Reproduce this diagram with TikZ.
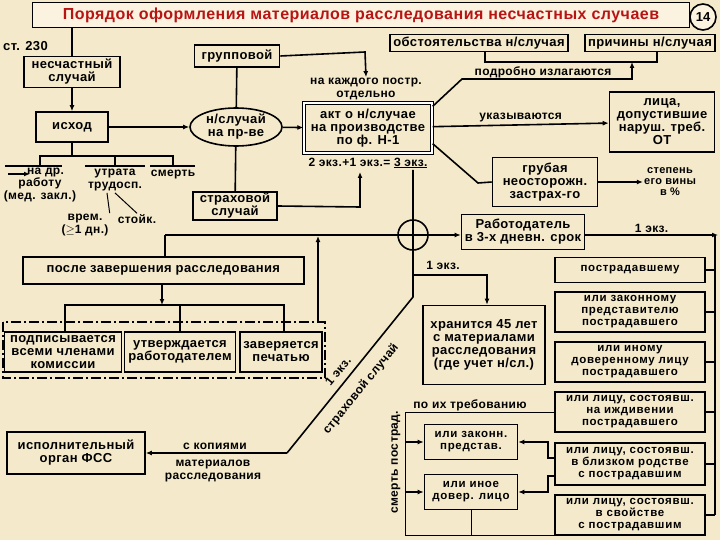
\documentclass[tikz,border=0pt]{standalone}
\usepackage{fontspec}
\setmainfont{Liberation Sans}
\newfontfamily\wideA{Liberation Sans}[LetterSpace=3]
\newfontfamily\wideB{Liberation Sans}[LetterSpace=6]
\usetikzlibrary{arrows.meta,shapes.geometric}
\definecolor{bg}{HTML}{F4EACB}
\definecolor{ttl}{HTML}{FBF3E0}
\definecolor{red1}{HTML}{B81414}
\begin{document}
\begin{tikzpicture}[x=1pt,y=-1pt,
  every node/.style={font=\wideA\fontsize{13}{13}\selectfont\bfseries, align=center, inner sep=1pt},
  box/.style={draw, line width=1.6pt, rectangle},
  sm/.style={font=\wideB\fontsize{11.5}{12}\selectfont\bfseries},
  ln/.style={line width=1.6pt},
  ar/.style={ln, -{Latex[length=6pt,width=5pt]}},
  lbl/.style={font=\wideA\fontsize{12}{12.5}\selectfont\bfseries}]
\fill[bg] (0,0) rectangle (720,540);
\useasboundingbox (0,0) rectangle (720,540);
% title
\node[box, fill=ttl, minimum width=657pt, minimum height=25pt, text=red1, font=\wideA\fontsize{16}{16}\selectfont\bfseries] (title) at (361,15) {Порядок оформления материалов расследования несчастных случаев};
\node[draw, circle, line width=1.6pt, fill=ttl, minimum size=26pt, font=\fontsize{13}{13}\selectfont\bfseries] (n14) at (703,17) {14};
\node[anchor=west] (st) at (2,46) {ст. 230};
% left part
\node[box, minimum width=96pt, minimum height=31pt] (nesch) at (72,72) {несчастный\\случай};
\node[box, minimum width=72pt, minimum height=30pt] (ishod) at (72,127) {исход};
\node[draw, ellipse, line width=1.6pt, minimum width=92pt, minimum height=38pt, inner sep=0pt] (ell) at (236,127) {н/случай\\на пр-ве};
\node[box, minimum width=85pt, minimum height=22pt] (grp) at (237,56) {групповой};
\node[box, minimum width=84pt, minimum height=28pt] (strah) at (235,206) {страховой\\случай};
\draw[ln] (title.south -| nesch) -- (nesch.north);
\draw[ar] (nesch) -- (ishod);
\draw[ar] (ishod) -- (ell);
\draw[ln] (grp) -- (ell) -- (strah);
% outcomes
\coordinate (b0) at (72,156);
\draw[ln] (ishod) -- (b0);
\draw[ln] (40,166) -- (40,156) -- (173,156) -- (173,166);
\draw[ln] (115,156) -- (115,166);
\draw[ln] (5,166) -- (62,166); \draw[ln] (85,166) -- (145,166); \draw[ln] (150,166) -- (195,166);
\node[lbl, align=center] (drr) at (40,185) {\ \ \ на др.\\работу\\(мед. закл.)};
\coordinate (dra) at (8,174);
\draw[ar] (dra) -- +(22,0);
\node[lbl] (utr) at (115,180) {утрата\\трудосп.};
\node[lbl] (smrt) at (173,175) {смерть};
\node[lbl] (vrem) at (85,225) {врем.\\(${\geq}$1 дн.)};
\node[lbl] (stk) at (137,219) {стойк.};
\draw[line width=1pt] (utr.south) ++(-8,1) -- (vrem.north east);
\draw[line width=1pt] (utr.south) ++(0,1) -- (stk.north);
% act
\node[draw, double, double distance=2pt, line width=1.3pt, minimum width=128pt, minimum height=50pt] (akt) at (368,128) {акт о н/случае\\на производстве\\по ф. Н-1};
\node[lbl] (kazh) at (366,89) {на каждого постр.\\отдельно};
\node[lbl] (ekz) at (368,163) {2 экз.+1 экз.= \underline{3 экз.}};
\draw[ar] (ell) -- (akt);
\draw[ar] (grp.east) -- (365,52) -- (kazh.north);
\draw[ar] (strah.east) -- (360,207) -- (360,172);
% top right
\node[box, minimum width=178pt, minimum height=17pt] (obst) at (479,43) {обстоятельства н/случая};
\node[box, minimum width=130pt, minimum height=17pt] (prich) at (650,43) {причины н/случая};
\coordinate (br) at (632,62);
\draw[ln] (obst.south -| 485,0) -- (485,62) -- (657,62) -- (prich.south -| 657,0);
\draw[ar] (akt.north east) ++(0,4) -- (462,79) -- (632,79) -- (br);
\node[lbl] (podr) at (543,72) {подробно излагаются};
\node[box, minimum width=105pt, minimum height=60pt] (lica) at (662,122) {лица,\\допустившие\\наруш. треб.\\ОТ};
\draw[ar] (akt) -- node[lbl, above=1pt] {указываются} (lica);
\node[box, minimum width=105pt, minimum height=49pt] (grub) at (545,182) {грубая\\неосторожн.\\застрах-го};
\draw[ln] (akt.south east) ++(0,-10) -- (478,183) -- (grub.west);
\node[font=\wideA\fontsize{11}{11}\selectfont\bfseries] (step) at (670,182) {степень\\его вины\\в \%};
\draw[ar] (grub) -- (step);
% circle and employer
\node[draw, circle, line width=1.6pt, minimum size=30pt, inner sep=0pt] (circ) at (413,235) {};
\node[box, minimum width=123pt, minimum height=35pt] (rab) at (523,232) {Работодатель\\в 3-х дневн. срок};
\coordinate (hl) at (165,235);
\draw[ln] (413,170) -- (413,297) -- (287,453);
\draw[ar] (hl) -- (rab.west |- 0,235);
\node[lbl, rotate=51] (d1) at (338,371) {1 экз.};
\node[lbl, rotate=51] (d2) at (361,389) {страховой случай};
\node[lbl] (e1) at (443,265) {1 экз.};
\node[box, minimum width=122pt, minimum height=79pt] (hran) at (484,345) {хранится 45 лет\\с материалами\\расследования\\(где учет н/сл.)};
\draw[ar] (413,275) -- (487,275) -- (hran.north -| 487,0);
% after
\node[box, minimum width=281pt, minimum height=27pt, anchor=north west] (after) at (22,256) {};
\node at (after.center) {после завершения расследования};
\draw[ln] (after.north -| hl) -- (hl);
\draw[line width=1.6pt, dash pattern=on 10pt off 3pt on 2pt off 3pt] (3,322) rectangle (325,378);
\node[box, minimum width=117pt, minimum height=40pt] (p1) at (63,352) {подписывается\\всеми членами\\комиссии};
\node[box, minimum width=111pt, minimum height=40pt] (p2) at (180,352) {утверждается\\работодателем};
\node[box, minimum width=82pt, minimum height=40pt] (p3) at (281,352) {заверяется\\печатью};
\draw[ar] (after.south -| 162,0) -- (162,305);
\draw[ln] (p1.north -| 65,0) -- (65,305) -- (284,305) -- (p3.north -| 284,0);
\draw[ln] (180,305) -- (p2.north);
\draw[ar] (318,322) -- (318,236);
\node[box, minimum width=138pt, minimum height=42pt] (fss) at (76,453) {исполнительный\\орган ФСС};
\draw[ar] (287,453) -- (fss.east);
\node[lbl] (kop) at (215,446) {с копиями};
\node[lbl] (mat) at (213,471) {материалов\\расследования};
% right column
\coordinate (rx) at (715,235);
\draw[ar] (rab.east |- rx) -- node[lbl, above=1pt] {1 экз.} (718,235);
\node[box, sm, minimum width=150pt, minimum height=25pt] (r1) at (630,270) {пострадавшему};
\node[box, sm, minimum width=150pt, minimum height=40pt] (r2) at (630,312) {или законному\\представителю\\пострадавшего};
\node[box, sm, minimum width=150pt, minimum height=40pt] (r3) at (630,362) {или иному\\доверенному лицу\\пострадавшего};
\node[box, sm, minimum width=150pt, minimum height=40pt] (r4) at (630,412) {или лицу, состоявш.\\на иждивении\\пострадавшего};
\node[box, sm, minimum width=150pt, minimum height=42pt] (r5) at (630,464) {или лицу, состоявш.\\в близком родстве\\с пострадавшим};
\node[box, sm, minimum width=150pt, minimum height=40pt] (r6) at (630,515) {или лицу, состоявш.\\в свойстве\\с пострадавшим};
\draw[ln] (715,235) -- (715,515);
\foreach \r in {r1,r2,r3,r4,r5,r6} \draw[ln] (\r.east) -- (\r.east -| rx);
% death branch
\node[box, sm, minimum width=93pt, minimum height=35pt] (zak) at (471,442) {или законн.\\представ.};
\node[box, sm, minimum width=93pt, minimum height=35pt] (inoe) at (471,492) {или иное\\довер. лицо};
\node[lbl, rotate=90] (smp) at (396,462) {смерть пострад.};
\node[lbl] (trb) at (470,405) {по их требованию};
\draw[line width=1pt] (r4.west) -- (405,412) -- (405,535) -- (555,535);
\draw[line width=1pt] (inoe.south) -- (inoe.south |- 0,535);
\draw[ar] (405,442) -- (zak.west);
\draw[ar] (405,492) -- (inoe.west);
\draw[ar] (r5.west |- 0,458) -- (548,458) -- (548,442) -- (zak.east);
\draw[ar] (r5.west |- 0,476) -- (548,476) -- (548,492) -- (inoe.east);
\end{tikzpicture}
\end{document}
